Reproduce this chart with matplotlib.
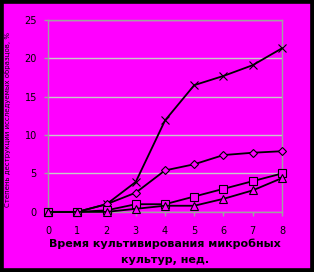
import matplotlib
matplotlib.use("Agg")
import matplotlib.pyplot as plt
from matplotlib.patches import Rectangle

# данные
weeks = [0, 1, 2, 3, 4, 5, 6, 7, 8]
series_x = [0, 0, 1.0, 3.9, 11.9, 16.5, 17.7, 19.1, 21.3]
series_diamond = [0, 0, 1.0, 2.5, 5.4, 6.2, 7.4, 7.7, 7.9]
series_square = [0, 0, 0.2, 1.0, 1.0, 2.0, 3.0, 4.0, 5.0]
series_triangle = [0, 0, 0, 0.4, 0.8, 0.8, 1.7, 2.8, 4.4]
y_ticks = [0, 5, 10, 15, 20, 25]

MAGENTA = "#FF00FF"

fig = plt.figure(figsize=(3.14, 2.72), dpi=100)
fig.patch.set_facecolor(MAGENTA)
# чёрная рамка вокруг рисунка
fig.patches.append(Rectangle((0, 0), 1, 1, transform=fig.transFigure,
                             fill=False, edgecolor="black", linewidth=5.5))

ax = fig.add_axes([0.153, 0.221, 0.745, 0.706])
ax.set_facecolor(MAGENTA)

for vals, m, ms in [(series_x, "x", 5.5), (series_diamond, "D", 4.5),
                    (series_square, "s", 5.5), (series_triangle, "^", 5.5)]:
    ax.plot(weeks, vals, color="black", linewidth=1.3, marker=m, markersize=ms,
            markerfacecolor=MAGENTA, markeredgecolor="black", markeredgewidth=0.8,
            clip_on=False, zorder=3)

ax.set_xlim(0, 8)
ax.set_ylim(0, 25)
ax.set_xticks(weeks)
ax.set_yticks(y_ticks)
ax.grid(axis="y", color="#C8C8C8", linewidth=1.0)
ax.set_axisbelow(True)
for s in ax.spines.values():
    s.set_color("#A0A0A0")
    s.set_linewidth(1.0)
ax.tick_params(colors="#A0A0A0", labelcolor="black", labelsize=7, length=3, width=1)
ax.tick_params(axis="x", pad=7)
ax.tick_params(axis="y", pad=5)

ax.set_xlabel("Время культивирования микробных\nкультур, нед.", fontsize=8,
              fontweight="bold", linespacing=1.75, labelpad=2)
fig.text(0.025, 0.56, "Степень деструкции исследуемых образцов, %", rotation=90,
         fontsize=5, ha="center", va="center")

fig.savefig("out.png", dpi=100, facecolor=fig.get_facecolor())
